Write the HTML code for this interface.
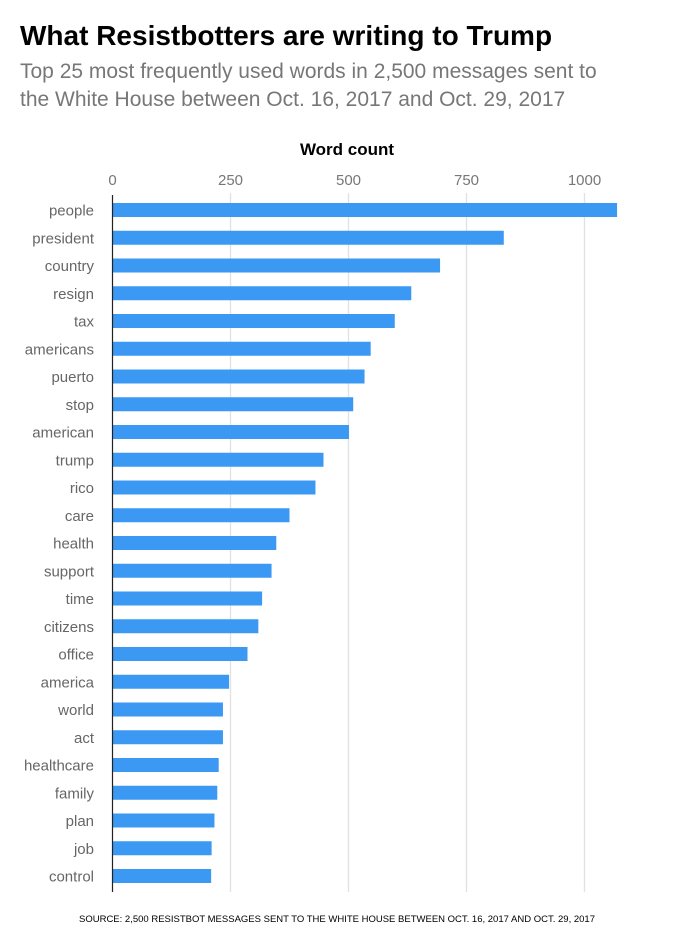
<!DOCTYPE html>
<html><head><meta charset="utf-8"><style>
body{margin:0;background:#fff;width:675px;height:937px;overflow:hidden;font-family:"Liberation Sans",Arial,sans-serif;}
svg text{font-family:"Liberation Sans",Arial,sans-serif;}
</style></head><body>
<svg id="chart" width="675" height="937" xmlns="http://www.w3.org/2000/svg">
<text x="20" y="45" font-size="28" font-weight="bold" fill="#000">What Resistbotters are writing to Trump</text>
<text x="20" y="78" font-size="21" fill="#777">Top 25 most frequently used words in 2,500 messages sent to</text>
<text x="20" y="106" font-size="21" fill="#777">the White House between Oct. 16, 2017 and Oct. 29, 2017</text>
<text x="347" y="155" font-size="17" font-weight="bold" text-anchor="middle" fill="#000">Word count</text>
<g id="grid"></g>
<g id="ticks"></g>
<g id="bars"></g>
<g id="labels"></g>
<line x1="112.5" y1="195" x2="112.5" y2="892" stroke="#222" stroke-width="1.2"/>
<text x="337" y="922" font-size="9.5" text-anchor="middle" fill="#000">SOURCE: 2,500 RESISTBOT MESSAGES SENT TO THE WHITE HOUSE BETWEEN OCT. 16, 2017 AND OCT. 29, 2017</text>
</svg>
<script>
const categories = ["people","president","country","resign","tax","americans","puerto","stop","american","trump","rico","care","health","support","time","citizens","office","america","world","act","healthcare","family","plan","job","control"];
const values = [1069,829,694,633,598,547,534,510,501,447,430,375,347,337,317,309,286,247,234,234,225,222,216,210,209];
const tickValues = [0,250,500,750,1000];
const tickLabels = ["0","250","500","750","1000"];

const NS = "http://www.w3.org/2000/svg";
const x0 = 112.5, pxPerUnit = 0.472;
const xScale = v => x0 + v * pxPerUnit;
const rowTop = 203, rowStep = 27.75, barH = 14;
const yScale = i => rowTop + i * rowStep;

const grid = document.getElementById('grid');
const ticks = document.getElementById('ticks');
tickValues.forEach((t, i) => {
  if (t > 0) {
    const l = document.createElementNS(NS, 'line');
    
    
    l.setAttribute('x1', xScale(t)); l.setAttribute('x2', xScale(t));
    l.setAttribute('y1', 193); l.setAttribute('y2', 892);
    l.setAttribute('stroke', '#e2e2e2'); l.setAttribute('stroke-width', '1.3');
    grid.appendChild(l);
  }
  const tx = document.createElementNS(NS, 'text');
  
  
  tx.setAttribute('x', xScale(t)); tx.setAttribute('y', 185);
  tx.setAttribute('font-size', '15'); tx.setAttribute('fill', '#777');
  tx.setAttribute('text-anchor', 'middle');
  tx.textContent = tickLabels[i];
  ticks.appendChild(tx);
});

const bars = document.getElementById('bars');
const labels = document.getElementById('labels');
categories.forEach((c, i) => {
  const r = document.createElementNS(NS, 'rect');
  
  
  r.setAttribute('x', x0); r.setAttribute('y', yScale(i));
  r.setAttribute('width', xScale(values[i]) - x0); r.setAttribute('height', barH);
  r.setAttribute('fill', '#3b98f3');
  bars.appendChild(r);
  const t = document.createElementNS(NS, 'text');
  
  
  t.setAttribute('x', 94); t.setAttribute('y', yScale(i) + 12.5);
  t.setAttribute('font-size', '15'); t.setAttribute('fill', '#666');
  t.setAttribute('text-anchor', 'end');
  t.textContent = c;
  labels.appendChild(t);
});
</script>
</body></html>
